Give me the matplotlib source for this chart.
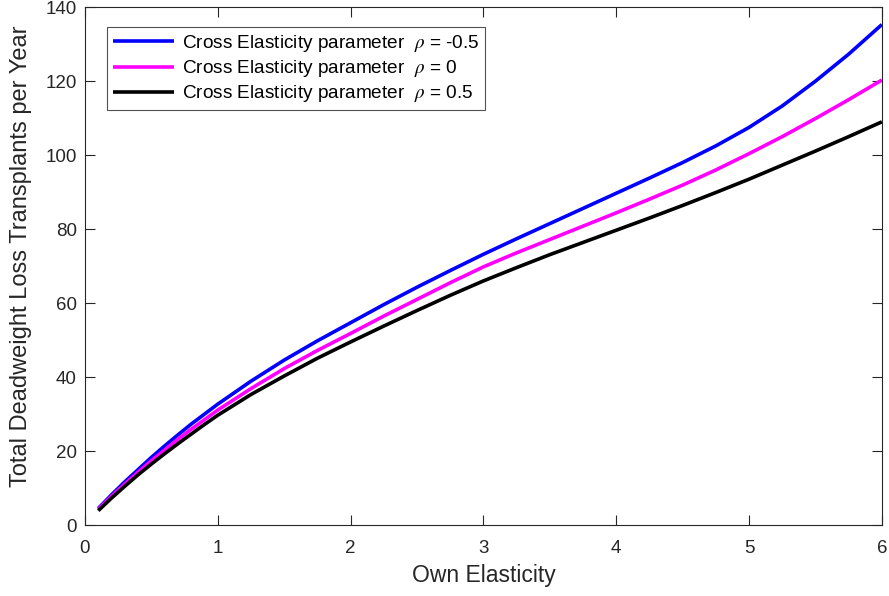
import matplotlib
matplotlib.use("Agg")
import matplotlib.pyplot as plt

plt.rcParams["font.family"] = ["Liberation Sans", "DejaVu Sans"]
plt.rcParams["mathtext.fontset"] = "stix"

# Data
own_elasticity = [0.1, 0.2, 0.3, 0.4, 0.5, 0.6, 0.7, 0.8, 0.9, 1.0,
                  1.25, 1.5, 1.75, 2.0, 2.25, 2.5, 2.75, 3.0, 3.25, 3.5,
                  3.75, 4.0, 4.25, 4.5, 4.75, 5.0, 5.25, 5.5, 5.75, 6.0]
dwl_rho_neg05 = [4.5, 8.2, 11.7, 15.0, 18.3, 21.4, 24.4, 27.3, 30.0, 32.7,
                 38.9, 44.6, 49.8, 54.7, 59.6, 64.3, 68.8, 73.2, 77.4, 81.5,
                 85.6, 89.7, 93.8, 98.0, 102.5, 107.5, 113.3, 120.0, 127.3, 135.3]
dwl_rho_0 = [4.3, 7.8, 11.1, 14.3, 17.4, 20.3, 23.2, 25.9, 28.5, 31.1,
             36.9, 42.3, 47.2, 51.8, 56.5, 61.0, 65.5, 69.8, 73.6, 77.2,
             80.8, 84.4, 88.1, 91.9, 96.0, 100.4, 105.0, 109.9, 115.0, 120.3]
dwl_rho_05 = [3.9, 7.3, 10.5, 13.6, 16.5, 19.3, 22.0, 24.6, 27.2, 29.7,
              35.3, 40.3, 45.1, 49.5, 53.8, 58.0, 62.1, 66.0, 69.6, 73.1,
              76.4, 79.7, 83.0, 86.4, 89.9, 93.5, 97.3, 101.1, 105.0, 109.0]

series = [
    (dwl_rho_neg05, "#0000ff", "-0.5"),
    (dwl_rho_0, "#ff00ff", "0"),
    (dwl_rho_05, "#000000", "0.5"),
]

fig = plt.figure(figsize=(8.89, 5.96), dpi=100)
ax = fig.add_axes((0.0956, 0.119, 0.8964, 0.869))

for vals, col, rho in series:
    ax.plot(own_elasticity, vals, color=col, lw=2.6,
            solid_capstyle="butt", solid_joinstyle="round",
            label="Cross Elasticity parameter  $\\rho$ = " + rho)

ax.set_xlim(0, 6)
ax.set_ylim(0, 140)
ax.set_xticks(range(0, 7))
ax.set_yticks(range(0, 141, 20))
ax.tick_params(direction="in", length=7, width=0.8, top=True, right=True,
               labelsize=13.5, colors="#262626", pad=6)
ax.tick_params(axis="x", pad=11)
for sp in ax.spines.values():
    sp.set_color("#262626")
    sp.set_linewidth(0.8)

ax.set_xlabel("Own Elasticity", fontsize=16.5, color="#262626", labelpad=5)
ax.set_ylabel("Total Deadweight Loss Transplants per Year", fontsize=17,
              color="#262626")
ax.yaxis.set_label_coords(-0.067, 0.519)

leg = ax.legend(loc="upper left", bbox_to_anchor=(0.0276, 0.961), fontsize=13.7,
                frameon=True, fancybox=False, edgecolor="#262626",
                handlelength=3.2, borderaxespad=0, labelspacing=0.22,
                handletextpad=0.45, borderpad=0.3)
leg.get_frame().set_linewidth(0.8)

fig.savefig("out.png", dpi=100)
